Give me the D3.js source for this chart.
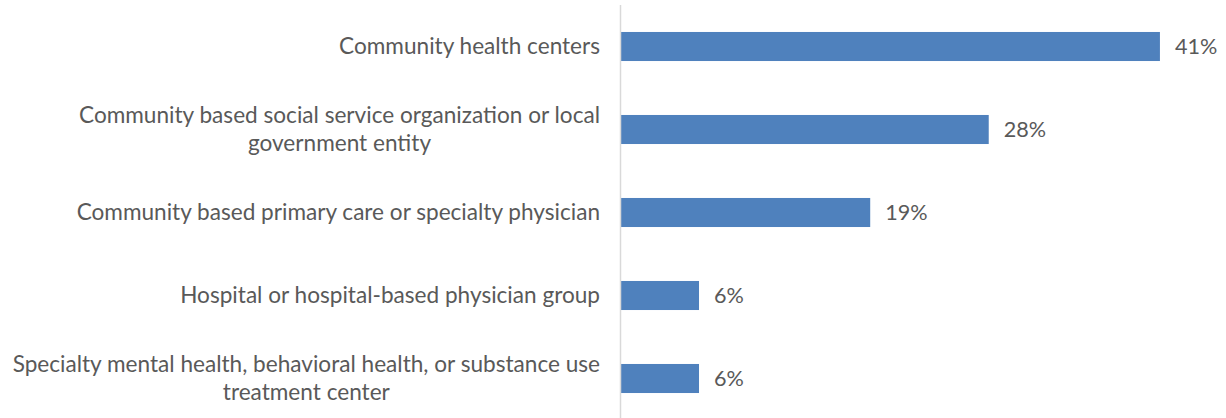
<!DOCTYPE html>
<html>
<head>
<meta charset="utf-8">
<script src="https://cdn.jsdelivr.net/npm/d3@7"></script>
<style>
  html, body { margin: 0; padding: 0; background: #fff; }
  svg { display: block; font-family: Lato, "Open Sans", sans-serif; }
</style>
</head>
<body>
<script>
// data
const categories = [
  "Community health centers",
  "Community based social service organization or local government entity",
  "Community based primary care or specialty physician",
  "Hospital or hospital-based physician group",
  "Specialty mental health, behavioral health, or substance use treatment center"
];
const labelLines = [
  ["Community health centers"],
  ["Community based social service organization or local", "government entity"],
  ["Community based primary care or specialty physician"],
  ["Hospital or hospital-based physician group"],
  ["Specialty mental health, behavioral health, or substance use", "treatment center"]
];
const values = [41, 28, 19, 6, 6];

const width = 1226, height = 418;
const axisX = 620;
const textColor = "#595959";
const fontSize = 22.6;

const svg = d3.select("body").append("svg")
  .attr("width", width)
  .attr("height", height);

const x = d3.scaleLinear().domain([0, 45]).range([axisX, 1212.6]);
const y = d3.scaleBand()
  .domain(categories)
  .range([5, 420])
  .paddingInner(0.65)
  .paddingOuter(0.325);

// bars
svg.append("g")
  .selectAll("rect")
  .data(values)
  .join("rect")
  .attr("x", x(0))
  .attr("y", (d, i) => y(categories[i]))
  .attr("width", d => x(d) - x(0))
  .attr("height", y.bandwidth())
  .attr("fill", "#4F81BD");

// vertical axis line
svg.append("line")
  .attr("x1", axisX + 0.5).attr("x2", axisX + 0.5)
  .attr("y1", 5).attr("y2", height)
  .attr("stroke", "#D9D9D9")
  .attr("stroke-width", 1.5);

// value labels
svg.append("g")
  .selectAll("text")
  .data(values)
  .join("text")
  .attr("x", d => x(d) + 15)
  .attr("y", (d, i) => y(categories[i]) + y.bandwidth() / 2)
  .attr("dy", "0.35em")
  .attr("fill", textColor)
  .style("font-size", (fontSize - 1) + "px")
  .text(d => d + "%");

// category labels, lines centred on each other, block right-aligned to the axis
const labelG = svg.append("g");
labelLines.forEach((lines, i) => {
  const cy = y(categories[i]) + y.bandwidth() / 2;
  const lh = 28;
  const t = labelG.append("text")
    .attr("fill", textColor)
    .attr("text-anchor", "middle")
    .style("font-size", fontSize + "px");
  lines.forEach((ln, j) => {
    t.append("tspan")
      .attr("y", cy + (j - (lines.length - 1) / 2) * lh)
      .attr("dy", "0.35em")
      .text(ln);
  });
  let maxW = 0;
  t.selectAll("tspan").each(function () {
    maxW = Math.max(maxW, this.getComputedTextLength());
  });
  t.selectAll("tspan").attr("x", axisX - 20 - maxW / 2);
});
</script>
</body>
</html>
